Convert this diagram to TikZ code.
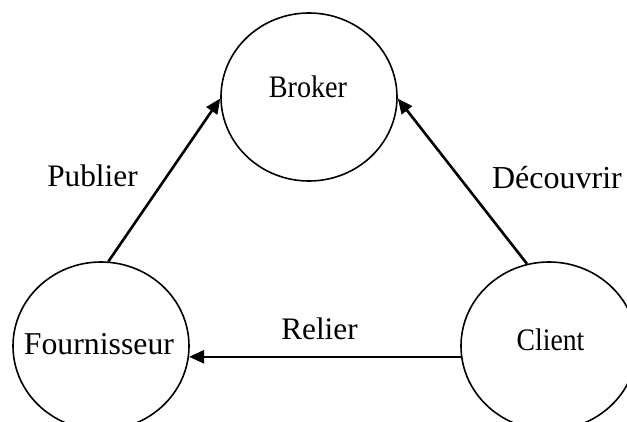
\documentclass[tikz,border=0pt]{standalone}
\usepackage{fontspec}
\setmainfont{Liberation Serif}
\usetikzlibrary{shapes.geometric,arrows.meta}
\begin{document}
\begin{tikzpicture}[x=1pt,y=1pt,
  actor/.style={ellipse,draw,line width=1.6pt,minimum width=176pt,minimum height=168pt,inner sep=0pt},
  txt/.style={anchor=base,inner sep=0pt,font=\fontsize{31.3}{38}\selectfont},
  flow/.style={line width=2.6pt,-{Triangle[length=15pt,width=13pt]}}]
\useasboundingbox (0,0) rectangle (627,-422);
% the three actors
\node[actor] (B) at (309,-97) {};
\node[txt] (tb) at (308,-97.3) {\scalebox{0.9}[1]{Broker}};
\node[actor] (F) at (101,-346) {};
\node[txt,font=\fontsize{31.8}{38}\selectfont] (tf) at (99,-355) {Fournisseur};
\node[actor] (C) at (549,-346) {};
\node[txt] (tc) at (550.5,-350.7) {\scalebox{0.885}[1]{Client}};
% interactions
\draw[flow] (F.85) -- (B.181);
\draw[flow] (C.105) -- (B.359);
\draw[flow] (C.187) -- (F.353);
\node[txt] (lp) at (92.5,-186.7) {Publier};
\node[txt,font=\fontsize{32}{38}\selectfont] (ld) at (557,-188.3) {Découvrir};
\node[txt] (lr) at (319.5,-340) {Relier};
\end{tikzpicture}
\end{document}
